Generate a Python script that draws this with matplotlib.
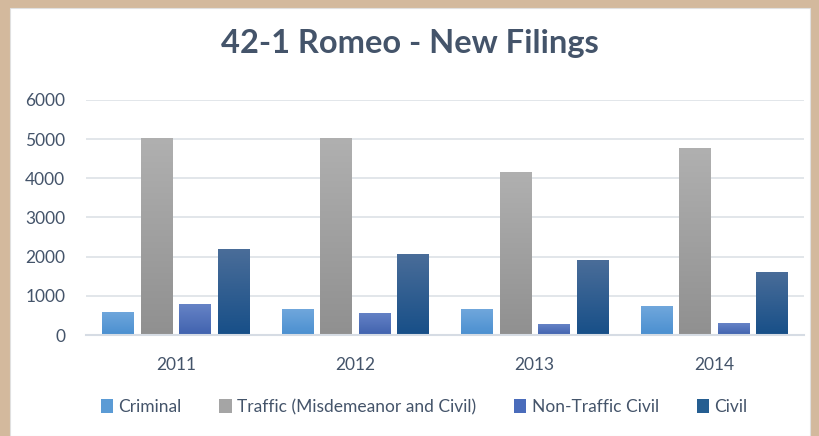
import matplotlib
matplotlib.use("Agg")
import matplotlib.pyplot as plt
import numpy as np
from matplotlib.patches import Rectangle
from matplotlib.colors import LinearSegmentedColormap

years = ["2011", "2012", "2013", "2014"]
series_names = ["Criminal", "Traffic (Misdemeanor and Civil)", "Non-Traffic Civil", "Civil"]
criminal = [590, 660, 660, 740]
traffic = [5030, 5030, 4160, 4770]
non_traffic_civil = [790, 570, 280, 300]
civil = [2190, 2070, 1910, 1610]
yticks = [0, 1000, 2000, 3000, 4000, 5000, 6000]

series = [criminal, traffic, non_traffic_civil, civil]
top_colors = ["#70A7DC", "#B0B0B0", "#6683C6", "#4A6D99"]
bot_colors = ["#4A8FD0", "#909090", "#4062AE", "#174F88"]
legend_colors = ["#5B9BD5", "#A5A5A5", "#4A6CBB", "#255E91"]

text_color = "#44546A"
plt.rcParams['font.family'] = ['Lato', 'DejaVu Sans']

fig = plt.figure(figsize=(8.2, 4.36), dpi=100)
fig.patch.set_facecolor("#D3B99D")
fig.patches.append(Rectangle((10/820, 0), 800/820, 428/436, transform=fig.transFigure,
                             facecolor="white", edgecolor="#E0E0E0", lw=0.8, zorder=-10))

ax = fig.add_axes([86/820, 101/436, 718/820, 235/436])
ax.set_facecolor("none")
ax.set_zorder(1)

x = np.arange(len(years))
width = 0.178
step = 0.2145
for i, (vals, tc, bc) in enumerate(zip(series, top_colors, bot_colors)):
    cmap = LinearSegmentedColormap.from_list(f"g{i}", [bc, tc])
    bars = ax.bar(x + (i - 1.5) * step, vals, width, color=legend_colors[i], zorder=2,
                  label=series_names[i])
    for b in bars:
        bx, by = b.get_x(), b.get_y()
        bw, bh = b.get_width(), b.get_height()
        grad = np.linspace(0, 1, 256).reshape(-1, 1)
        im = ax.imshow(grad, cmap=cmap, origin="lower", aspect="auto",
                       extent=[bx, bx + bw, by, by + bh], zorder=2.1)
        im.set_clip_path(b)

ax.set_xlim(-0.5, len(years) - 0.5)
ax.set_ylim(0, 6000)
ax.set_yticks(yticks)
ax.set_yticklabels([str(t) for t in yticks])
ax.set_xticks(x)
ax.set_xticklabels(years)
ax.tick_params(axis='both', length=0, labelsize=12.5, labelcolor=text_color)
ax.tick_params(axis='y', pad=15)
ax.tick_params(axis='x', pad=16)
ax.grid(axis='y', color="#DDE1E6", lw=1.2, zorder=0)
ax.set_axisbelow(True)
for s in ["top", "right", "left"]:
    ax.spines[s].set_visible(False)
ax.spines["bottom"].set_color("#D6DCE4")
ax.spines["bottom"].set_linewidth(1.5)
ax.spines["bottom"].set_zorder(3)

fig.text(0.5, 383/436, "42-1 Romeo - New Filings", ha="center", va="baseline",
         fontsize=23.5, fontweight="bold", color=text_color)

handles = [Rectangle((0, 0), 1, 1, facecolor=c) for c in legend_colors]
leg = fig.legend(handles, series_names, loc="center", bbox_to_anchor=(424/820, 1 - 407/436),
                 ncol=4, frameon=False, fontsize=12.5, handlelength=0.7, handleheight=0.9,
                 handletextpad=0.3, columnspacing=2.2)
for t in leg.get_texts():
    t.set_color(text_color)

fig.savefig("out.png", dpi=100, facecolor=fig.get_facecolor())
